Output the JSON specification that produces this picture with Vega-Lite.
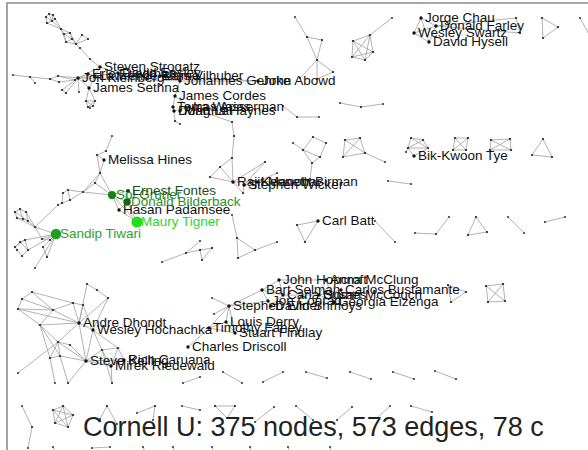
{
"$schema":"https://vega.github.io/schema/vega-lite/v6.json",
"width":640,"height":480,
"autosize":{"type":"none"},
"padding":{"left":7,"top":3,"right":0,"bottom":0},
"background":"white",
"config":{"view":{"stroke":"#8c8c8c","strokeWidth":1.6}},
"datasets":{
"edges":[
{"x":46,"y":17,"x2":49,"y2":14},{"x":49,"y":14,"x2":53,"y2":15},{"x":46,"y":17,"x2":47,"y2":23},{"x":47,"y":23,"x2":52,"y2":21},{"x":49,"y":14,"x2":52,"y2":21},{"x":53,"y":15,"x2":55,"y2":19},{"x":52,"y":21,"x2":55,"y2":19},{"x":46,"y":17,"x2":52,"y2":21},{"x":53,"y":15,"x2":52,"y2":21},{"x":47,"y":23,"x2":61,"y2":29},{"x":52,"y":21,"x2":61,"y2":29},{"x":55,"y":19,"x2":61,"y2":29},
{"x":61,"y":29,"x2":64,"y2":34},{"x":61,"y":29,"x2":70,"y2":33},{"x":64,"y":34,"x2":70,"y2":33},{"x":64,"y":34,"x2":66,"y2":42},{"x":70,"y":33,"x2":72,"y2":39},{"x":66,"y":42,"x2":72,"y2":39},{"x":66,"y":42,"x2":76,"y2":44},{"x":72,"y":39,"x2":76,"y2":44},{"x":64,"y":34,"x2":72,"y2":39},{"x":70,"y":33,"x2":76,"y2":44},{"x":61,"y":29,"x2":66,"y2":42},{"x":76,"y":44,"x2":82,"y2":35},{"x":76,"y":44,"x2":88,"y2":39},{"x":82,"y":35,"x2":88,"y2":39},{"x":76,"y":44,"x2":80,"y2":48},{"x":80,"y":48,"x2":90,"y2":59},{"x":90,"y":59,"x2":100,"y2":67},
{"x":13,"y":75,"x2":30,"y2":77},{"x":30,"y":77,"x2":35,"y2":83},{"x":30,"y":77,"x2":50,"y2":79},{"x":50,"y":79,"x2":58,"y2":76},{"x":50,"y":79,"x2":59,"y2":82},{"x":58,"y":76,"x2":75,"y2":80},{"x":59,"y":82,"x2":75,"y2":80},{"x":75,"y":80,"x2":78,"y2":78},{"x":58,"y":76,"x2":78,"y2":78},{"x":62,"y":90,"x2":78,"y2":78},{"x":66,"y":93,"x2":78,"y2":78},{"x":79,"y":92,"x2":78,"y2":78},{"x":62,"y":90,"x2":66,"y2":93},
{"x":89,"y":88,"x2":86,"y2":101},{"x":89,"y":88,"x2":95,"y2":101},{"x":86,"y":101,"x2":88,"y2":107},{"x":86,"y":101,"x2":95,"y2":101},{"x":88,"y":107,"x2":93,"y2":106},{"x":95,"y":101,"x2":93,"y2":106},{"x":86,"y":101,"x2":93,"y2":106},{"x":95,"y":101,"x2":88,"y2":107},{"x":88,"y":107,"x2":90,"y2":108},
{"x":100,"y":67,"x2":78,"y2":78},{"x":78,"y":78,"x2":89,"y2":88},{"x":100,"y":67,"x2":89,"y2":88},{"x":78,"y":78,"x2":88,"y2":74},{"x":88,"y":74,"x2":95,"y2":76},{"x":95,"y":76,"x2":118,"y2":73},{"x":118,"y":73,"x2":78,"y2":78},{"x":100,"y":67,"x2":118,"y2":73},{"x":118,"y":73,"x2":160,"y2":76},{"x":160,"y":76,"x2":180,"y2":81},{"x":180,"y":81,"x2":258,"y2":81},{"x":160,"y":76,"x2":258,"y2":81},{"x":78,"y":78,"x2":180,"y2":81},{"x":180,"y":81,"x2":175,"y2":96},{"x":175,"y":96,"x2":173,"y2":107},{"x":173,"y":107,"x2":174,"y2":111},{"x":175,"y":96,"x2":189,"y2":107},{"x":189,"y":107,"x2":174,"y2":111},{"x":174,"y":111,"x2":175,"y2":121},{"x":175,"y":121,"x2":180,"y2":124},{"x":189,"y":107,"x2":232,"y2":122},{"x":232,"y":122,"x2":234,"y2":136},{"x":234,"y":136,"x2":232,"y2":158},
{"x":232,"y":158,"x2":220,"y2":167},{"x":220,"y":167,"x2":210,"y2":177},{"x":210,"y":177,"x2":233,"y2":182},{"x":232,"y":158,"x2":233,"y2":182},{"x":220,"y":167,"x2":233,"y2":182},{"x":265,"y":162,"x2":233,"y2":182},{"x":265,"y":162,"x2":244,"y2":185},{"x":243,"y":193,"x2":233,"y2":182},{"x":243,"y":193,"x2":244,"y2":185},{"x":277,"y":173,"x2":257,"y2":182},{"x":233,"y":182,"x2":257,"y2":182},{"x":244,"y":185,"x2":257,"y2":182},{"x":312,"y":163,"x2":310,"y2":179},{"x":310,"y":179,"x2":257,"y2":182},{"x":303,"y":150,"x2":312,"y2":163},{"x":312,"y":163,"x2":320,"y2":157},{"x":303,"y":150,"x2":320,"y2":157},{"x":313,"y":137,"x2":303,"y2":150},{"x":313,"y":137,"x2":326,"y2":143},{"x":326,"y":143,"x2":320,"y2":157},{"x":293,"y":143,"x2":303,"y2":150},
{"x":232,"y":215,"x2":237,"y2":238},{"x":237,"y":238,"x2":255,"y2":250},{"x":237,"y":238,"x2":238,"y2":258},{"x":238,"y":258,"x2":255,"y2":250},{"x":255,"y":250,"x2":277,"y2":242},
{"x":345,"y":140,"x2":360,"y2":138},{"x":360,"y":138,"x2":365,"y2":153},{"x":365,"y":153,"x2":343,"y2":157},{"x":343,"y":157,"x2":345,"y2":140},{"x":345,"y":140,"x2":365,"y2":153},{"x":360,"y":138,"x2":343,"y2":157},{"x":365,"y":153,"x2":385,"y2":162},
{"x":297,"y":225,"x2":318,"y2":221},{"x":318,"y":221,"x2":305,"y2":242},{"x":297,"y":225,"x2":305,"y2":242},{"x":375,"y":221,"x2":395,"y2":242},
{"x":162,"y":262,"x2":186,"y2":253},{"x":186,"y":253,"x2":200,"y2":241},{"x":186,"y":253,"x2":200,"y2":250},{"x":200,"y":250,"x2":212,"y2":248},{"x":212,"y":248,"x2":202,"y2":260},{"x":202,"y":260,"x2":200,"y2":250},
{"x":112,"y":136,"x2":106,"y2":151},{"x":106,"y":151,"x2":97,"y2":155},{"x":97,"y":155,"x2":104,"y2":160},{"x":97,"y":155,"x2":100,"y2":173},{"x":104,"y":160,"x2":100,"y2":173},{"x":100,"y":173,"x2":95,"y2":183},{"x":100,"y":173,"x2":83,"y2":192},{"x":95,"y":183,"x2":83,"y2":192},{"x":100,"y":173,"x2":112,"y2":195},{"x":95,"y":183,"x2":112,"y2":195},{"x":83,"y":192,"x2":68,"y2":190},{"x":68,"y":190,"x2":63,"y2":193},{"x":68,"y":190,"x2":70,"y2":200},{"x":63,"y":193,"x2":62,"y2":203},{"x":62,"y":203,"x2":70,"y2":200},{"x":83,"y":192,"x2":70,"y2":200},{"x":62,"y":203,"x2":58,"y2":205},{"x":58,"y":205,"x2":35,"y2":227},{"x":83,"y":192,"x2":112,"y2":195},
{"x":112,"y":195,"x2":128,"y2":191},{"x":112,"y":195,"x2":127,"y2":202},{"x":112,"y":195,"x2":119,"y2":210},{"x":128,"y":191,"x2":127,"y2":202},{"x":127,"y":202,"x2":119,"y2":210},{"x":119,"y":210,"x2":137,"y2":222},{"x":127,"y":202,"x2":137,"y2":222},{"x":112,"y":195,"x2":137,"y2":222},
{"x":15,"y":212,"x2":20,"y2":209},{"x":20,"y":209,"x2":26,"y2":212},{"x":15,"y":212,"x2":17,"y2":218},{"x":17,"y":218,"x2":23,"y2":219},{"x":23,"y":219,"x2":28,"y2":221},{"x":26,"y":212,"x2":28,"y2":221},{"x":20,"y":209,"x2":23,"y2":219},{"x":26,"y":212,"x2":35,"y2":227},{"x":28,"y":221,"x2":35,"y2":227},{"x":17,"y":218,"x2":35,"y2":227},{"x":15,"y":212,"x2":28,"y2":221},
{"x":35,"y":227,"x2":56,"y2":234},{"x":56,"y":234,"x2":42,"y2":239},{"x":56,"y":234,"x2":50,"y2":240},{"x":56,"y":234,"x2":43,"y2":247},{"x":56,"y":234,"x2":47,"y2":257},{"x":56,"y":234,"x2":35,"y2":268},{"x":56,"y":234,"x2":25,"y2":240},{"x":56,"y":234,"x2":28,"y2":250},{"x":15,"y":247,"x2":20,"y2":242},{"x":20,"y":242,"x2":25,"y2":240},{"x":15,"y":247,"x2":17,"y2":250},{"x":17,"y":250,"x2":22,"y2":256},{"x":22,"y":256,"x2":28,"y2":250},{"x":28,"y":250,"x2":25,"y2":240},{"x":20,"y":242,"x2":28,"y2":250},{"x":15,"y":247,"x2":25,"y2":240},{"x":43,"y":247,"x2":47,"y2":257},{"x":42,"y":239,"x2":50,"y2":240},{"x":35,"y":227,"x2":42,"y2":239},
{"x":295,"y":17,"x2":307,"y2":37},{"x":307,"y":37,"x2":322,"y2":40},{"x":307,"y":37,"x2":317,"y2":60},{"x":322,"y":40,"x2":317,"y2":60},{"x":317,"y":60,"x2":333,"y2":72},{"x":317,"y":60,"x2":300,"y2":78},{"x":317,"y":60,"x2":317,"y2":79},{"x":333,"y":72,"x2":317,"y2":79},
{"x":353,"y":41,"x2":370,"y2":35},{"x":353,"y":41,"x2":373,"y2":52},{"x":353,"y":41,"x2":365,"y2":60},{"x":353,"y":41,"x2":352,"y2":57},{"x":370,"y":35,"x2":373,"y2":52},{"x":370,"y":35,"x2":365,"y2":60},{"x":370,"y":35,"x2":352,"y2":57},{"x":373,"y":52,"x2":365,"y2":60},{"x":373,"y":52,"x2":352,"y2":57},{"x":365,"y":60,"x2":352,"y2":57},{"x":370,"y":35,"x2":392,"y2":18},
{"x":421,"y":18,"x2":414,"y2":33},{"x":414,"y":33,"x2":429,"y2":42},{"x":429,"y":42,"x2":436,"y2":26},{"x":436,"y":26,"x2":421,"y2":18},{"x":421,"y":18,"x2":429,"y2":42},{"x":414,"y":33,"x2":436,"y2":26},{"x":436,"y":26,"x2":516,"y2":18},{"x":436,"y":26,"x2":520,"y2":33},{"x":516,"y":18,"x2":520,"y2":33},
{"x":542,"y":18,"x2":558,"y2":27},{"x":558,"y":27,"x2":543,"y2":38},{"x":543,"y":38,"x2":542,"y2":18},{"x":580,"y":18,"x2":592,"y2":40},
{"x":340,"y":103,"x2":361,"y2":107},{"x":361,"y":107,"x2":383,"y2":104},{"x":283,"y":106,"x2":297,"y2":117},{"x":297,"y":117,"x2":319,"y2":117},
{"x":411,"y":138,"x2":423,"y2":140},{"x":423,"y":140,"x2":428,"y2":148},{"x":428,"y":148,"x2":408,"y2":148},{"x":408,"y":148,"x2":411,"y2":138},{"x":411,"y":138,"x2":428,"y2":148},{"x":423,"y":140,"x2":408,"y2":148},{"x":408,"y":148,"x2":414,"y2":156},{"x":428,"y":148,"x2":414,"y2":156},{"x":406,"y":152,"x2":408,"y2":148},
{"x":455,"y":138,"x2":468,"y2":138},{"x":468,"y":138,"x2":466,"y2":150},{"x":466,"y":150,"x2":453,"y2":150},{"x":453,"y":150,"x2":455,"y2":138},{"x":455,"y":138,"x2":466,"y2":150},{"x":468,"y":138,"x2":453,"y2":150},
{"x":491,"y":140,"x2":510,"y2":139},{"x":510,"y":139,"x2":511,"y2":150},{"x":511,"y":150,"x2":490,"y2":150},{"x":490,"y":150,"x2":491,"y2":140},{"x":491,"y":140,"x2":511,"y2":150},{"x":510,"y":139,"x2":490,"y2":150},
{"x":543,"y":139,"x2":532,"y2":155},{"x":532,"y":155,"x2":552,"y2":157},{"x":552,"y":157,"x2":543,"y2":139},
{"x":388,"y":181,"x2":411,"y2":184},{"x":415,"y":233,"x2":436,"y2":234},{"x":436,"y":234,"x2":449,"y2":217},{"x":476,"y":217,"x2":468,"y2":235},{"x":468,"y":235,"x2":487,"y2":232},{"x":487,"y":232,"x2":476,"y2":217},{"x":508,"y":217,"x2":524,"y2":233},{"x":545,"y":222,"x2":565,"y2":217},
{"x":262,"y":290,"x2":283,"y2":295},{"x":262,"y":290,"x2":268,"y2":301},{"x":283,"y":295,"x2":279,"y2":280},{"x":279,"y":280,"x2":262,"y2":290},{"x":283,"y":295,"x2":271,"y2":306},{"x":268,"y":301,"x2":271,"y2":306},{"x":229,"y":306,"x2":268,"y2":301},{"x":229,"y":306,"x2":226,"y2":322},{"x":229,"y":306,"x2":209,"y2":328},{"x":229,"y":306,"x2":235,"y2":333},{"x":226,"y":322,"x2":209,"y2":328},{"x":209,"y":328,"x2":235,"y2":333},{"x":226,"y":322,"x2":235,"y2":333},{"x":209,"y":328,"x2":188,"y2":347},{"x":341,"y":290,"x2":319,"y2":295},{"x":319,"y":295,"x2":334,"y2":302},{"x":326,"y":280,"x2":319,"y2":295},{"x":326,"y":280,"x2":334,"y2":302},{"x":341,"y":290,"x2":334,"y2":302},{"x":279,"y":280,"x2":326,"y2":280},{"x":283,"y":295,"x2":319,"y2":295},{"x":229,"y":306,"x2":262,"y2":290},{"x":229,"y":306,"x2":212,"y2":298},{"x":229,"y":306,"x2":214,"y2":314},
{"x":448,"y":285,"x2":466,"y2":292},{"x":466,"y":292,"x2":451,"y2":302},{"x":451,"y":302,"x2":448,"y2":285},
{"x":486,"y":286,"x2":503,"y2":284},{"x":503,"y":284,"x2":505,"y2":301},{"x":505,"y":301,"x2":488,"y2":302},{"x":488,"y":302,"x2":486,"y2":286},{"x":486,"y":286,"x2":505,"y2":301},{"x":503,"y":284,"x2":488,"y2":302},
{"x":32,"y":292,"x2":22,"y2":299},{"x":22,"y":299,"x2":18,"y2":309},{"x":32,"y":292,"x2":53,"y2":310},{"x":18,"y":309,"x2":53,"y2":310},{"x":22,"y":299,"x2":53,"y2":310},{"x":18,"y":309,"x2":40,"y2":325},{"x":40,"y":325,"x2":53,"y2":310},{"x":53,"y":310,"x2":73,"y2":303},{"x":73,"y":303,"x2":83,"y2":305},{"x":53,"y":310,"x2":79,"y2":323},{"x":73,"y":303,"x2":79,"y2":323},{"x":83,"y":305,"x2":79,"y2":323},{"x":40,"y":325,"x2":79,"y2":323},{"x":18,"y":309,"x2":79,"y2":323},{"x":87,"y":284,"x2":97,"y2":290},{"x":97,"y":290,"x2":108,"y2":298},{"x":87,"y":284,"x2":79,"y2":323},{"x":108,"y":298,"x2":79,"y2":323},{"x":108,"y":298,"x2":93,"y2":330},{"x":79,"y":323,"x2":93,"y2":330},{"x":79,"y":323,"x2":58,"y2":342},{"x":40,"y":325,"x2":58,"y2":342},{"x":58,"y":342,"x2":50,"y2":358},{"x":58,"y":342,"x2":60,"y2":356},{"x":50,"y":358,"x2":60,"y2":356},{"x":58,"y":342,"x2":86,"y2":361},{"x":60,"y":356,"x2":86,"y2":361},{"x":79,"y":323,"x2":86,"y2":361},{"x":93,"y":330,"x2":86,"y2":361},{"x":93,"y":330,"x2":102,"y2":350},{"x":102,"y":350,"x2":118,"y2":348},{"x":102,"y":350,"x2":86,"y2":361},{"x":118,"y":348,"x2":111,"y2":366},{"x":86,"y":361,"x2":111,"y2":366},{"x":102,"y":350,"x2":111,"y2":366},{"x":18,"y":373,"x2":58,"y2":342},{"x":70,"y":345,"x2":86,"y2":361},{"x":70,"y":345,"x2":58,"y2":342},{"x":93,"y":330,"x2":118,"y2":348},{"x":124,"y":360,"x2":111,"y2":366},{"x":124,"y":360,"x2":86,"y2":361},{"x":124,"y":360,"x2":118,"y2":348},{"x":40,"y":325,"x2":50,"y2":358},{"x":50,"y":358,"x2":55,"y2":383},{"x":60,"y":356,"x2":68,"y2":383},{"x":86,"y":361,"x2":68,"y2":383},{"x":111,"y":366,"x2":112,"y2":383},{"x":102,"y":350,"x2":112,"y2":383},{"x":83,"y":305,"x2":93,"y2":330},{"x":40,"y":325,"x2":60,"y2":356},{"x":32,"y":292,"x2":73,"y2":303},
{"x":183,"y":383,"x2":200,"y2":377},{"x":223,"y":372,"x2":242,"y2":383},{"x":263,"y":382,"x2":283,"y2":372},{"x":306,"y":372,"x2":327,"y2":378},{"x":350,"y":372,"x2":371,"y2":379},{"x":393,"y":372,"x2":414,"y2":379},{"x":435,"y":371,"x2":456,"y2":379},
{"x":215,"y":406,"x2":235,"y2":406},{"x":235,"y":406,"x2":227,"y2":418},{"x":227,"y":418,"x2":215,"y2":406},{"x":255,"y":422,"x2":274,"y2":407},{"x":296,"y":406,"x2":313,"y2":420},{"x":337,"y":420,"x2":352,"y2":407},{"x":377,"y":418,"x2":390,"y2":406},{"x":411,"y":406,"x2":432,"y2":412},
{"x":22,"y":406,"x2":32,"y2":427},{"x":32,"y":427,"x2":28,"y2":448},
{"x":53,"y":410,"x2":63,"y2":406},{"x":53,"y":410,"x2":73,"y2":415},{"x":53,"y":410,"x2":68,"y2":427},{"x":53,"y":410,"x2":55,"y2":423},{"x":63,"y":406,"x2":73,"y2":415},{"x":63,"y":406,"x2":68,"y2":427},{"x":63,"y":406,"x2":55,"y2":423},{"x":73,"y":415,"x2":68,"y2":427},{"x":73,"y":415,"x2":55,"y2":423},{"x":68,"y":427,"x2":55,"y2":423},
{"x":107,"y":406,"x2":117,"y2":424},{"x":107,"y":406,"x2":100,"y2":419},{"x":137,"y":413,"x2":155,"y2":406},{"x":155,"y":406,"x2":153,"y2":420},{"x":182,"y":406,"x2":200,"y2":410},
{"x":53,"y":447,"x2":58,"y2":458},{"x":92,"y":448,"x2":110,"y2":447},{"x":143,"y":447,"x2":148,"y2":458},{"x":173,"y":447,"x2":176,"y2":458},{"x":212,"y":447,"x2":216,"y2":458},{"x":250,"y":447,"x2":254,"y2":458},{"x":288,"y":447,"x2":291,"y2":458},{"x":330,"y":447,"x2":334,"y2":458}
],
"people":[
{"name":"Steven Strogatz","x":100,"y":67,"kind":"l"},
{"name":"Eric Friedman","x":88,"y":74,"kind":"l"},
{"name":"David Easley","x":118,"y":73,"kind":"l"},
{"name":"Lawrence Blume","x":95,"y":76,"kind":"l"},
{"name":"Lars Vilhuber","x":160,"y":76,"kind":"l"},
{"name":"Jon Kleinberg","x":78,"y":78,"kind":"l"},
{"name":"Johannes Gehrke","x":180,"y":81,"kind":"l"},
{"name":"John Abowd","x":258,"y":81,"kind":"l"},
{"name":"James Sethna","x":89,"y":88,"kind":"l"},
{"name":"James Cordes","x":175,"y":96,"kind":"l"},
{"name":"Tomas Arias","x":173,"y":107,"kind":"l"},
{"name":"Ira Wasserman","x":189,"y":107,"kind":"l"},
{"name":"Dong Lai","x":174,"y":111,"kind":"l"},
{"name":"Martha Haynes","x":180,"y":111,"kind":"l"},
{"name":"Jorge Chau","x":421,"y":18,"kind":"l"},
{"name":"Donald Farley","x":436,"y":26,"kind":"l"},
{"name":"Wesley Swartz","x":414,"y":33,"kind":"l"},
{"name":"David Hysell","x":429,"y":42,"kind":"l"},
{"name":"Melissa Hines","x":104,"y":160,"kind":"l"},
{"name":"Bik-Kwoon Tye","x":414,"y":156,"kind":"l"},
{"name":"Rajit Manohar","x":233,"y":182,"kind":"l"},
{"name":"Kenneth Birman","x":257,"y":182,"kind":"l"},
{"name":"Stephen Wicker","x":244,"y":185,"kind":"l"},
{"name":"Carl Batt","x":318,"y":221,"kind":"l"},
{"name":"Hasan Padamsee","x":119,"y":210,"kind":"l"},
{"name":"Sol Gruner","x":112,"y":195,"kind":"sol"},
{"name":"Ernest Fontes","x":128,"y":191,"kind":"ernest"},
{"name":"Donald Bilderback","x":127,"y":202,"kind":"donald"},
{"name":"Maury Tigner","x":137,"y":222,"kind":"maury"},
{"name":"Sandip Tiwari","x":56,"y":234,"kind":"sandip"},
{"name":"John Hopcroft","x":279,"y":280,"kind":"l"},
{"name":"Anna McClung","x":326,"y":280,"kind":"l"},
{"name":"Bart Selman","x":262,"y":290,"kind":"l"},
{"name":"Carlos Bustamante","x":341,"y":290,"kind":"l"},
{"name":"Carla Gomes","x":283,"y":295,"kind":"l"},
{"name":"Susan McCouch","x":319,"y":295,"kind":"l"},
{"name":"Jon Conrad","x":268,"y":301,"kind":"l"},
{"name":"Georgia Eizenga","x":334,"y":302,"kind":"l"},
{"name":"Stephen Ellner","x":229,"y":306,"kind":"l"},
{"name":"David Shmoys","x":271,"y":306,"kind":"l"},
{"name":"Louis Derry","x":226,"y":322,"kind":"l"},
{"name":"Timothy Fahey","x":209,"y":328,"kind":"l"},
{"name":"Stuart Findlay","x":235,"y":333,"kind":"l"},
{"name":"Charles Driscoll","x":188,"y":347,"kind":"l"},
{"name":"Andre Dhondt","x":79,"y":323,"kind":"l"},
{"name":"Wesley Hochachka","x":93,"y":330,"kind":"l"},
{"name":"Steve Kelling","x":86,"y":361,"kind":"l"},
{"name":"Rich Caruana","x":124,"y":360,"kind":"l"},
{"name":"Mirek Riedewald","x":111,"y":366,"kind":"l"}
],
"caption":[{"t":"Cornell U: 375 nodes, 573 edges, 78 c","x":83,"y":436}]
},
"layer":[
{"data":{"name":"edges"},"mark":{"type":"rule","stroke":"#a9a9a9","strokeWidth":0.9},
 "encoding":{"x":{"field":"x","type":"quantitative","scale":{"domain":[7,647],"nice":false,"zero":false},"axis":null},
 "y":{"field":"y","type":"quantitative","scale":{"domain":[3,483],"reverse":true,"nice":false,"zero":false},"axis":null},
 "x2":{"field":"x2"},"y2":{"field":"y2"}}},
{"data":{"name":"edges"},"mark":{"type":"circle","color":"#3c3c4c","opacity":1,"size":5},
 "encoding":{"x":{"field":"x","type":"quantitative"},"y":{"field":"y","type":"quantitative"}}},
{"data":{"name":"edges"},"mark":{"type":"circle","color":"#3c3c4c","opacity":1,"size":5},
 "encoding":{"x":{"field":"x2","type":"quantitative"},"y":{"field":"y2","type":"quantitative"}}},
{"data":{"name":"people"},"transform":[{"filter":{"field":"kind","equal":"l"}}],"mark":{"type":"circle","opacity":1,"size":11,"color":"#111111"},
 "encoding":{"x":{"field":"x","type":"quantitative"},"y":{"field":"y","type":"quantitative"}}},
{"data":{"name":"people"},"transform":[{"filter":{"field":"kind","equal":"sandip"}}],"mark":{"type":"circle","opacity":1,"size":107,"color":"#1f9f1f"},
 "encoding":{"x":{"field":"x","type":"quantitative"},"y":{"field":"y","type":"quantitative"}}},
{"data":{"name":"people"},"transform":[{"filter":{"field":"kind","equal":"maury"}}],"mark":{"type":"circle","opacity":1,"size":126,"color":"#22dd22"},
 "encoding":{"x":{"field":"x","type":"quantitative"},"y":{"field":"y","type":"quantitative"}}},
{"data":{"name":"people"},"transform":[{"filter":{"field":"kind","equal":"sol"}}],"mark":{"type":"circle","opacity":1,"size":68,"color":"#138313"},
 "encoding":{"x":{"field":"x","type":"quantitative"},"y":{"field":"y","type":"quantitative"}}},
{"data":{"name":"people"},"transform":[{"filter":{"field":"kind","equal":"donald"}}],"mark":{"type":"circle","opacity":1,"size":55,"color":"#0f6a0f"},
 "encoding":{"x":{"field":"x","type":"quantitative"},"y":{"field":"y","type":"quantitative"}}},
{"data":{"name":"people"},"transform":[{"filter":{"field":"kind","equal":"ernest"}}],"mark":{"type":"circle","opacity":1,"size":17,"color":"#0f3f0f"},
 "encoding":{"x":{"field":"x","type":"quantitative"},"y":{"field":"y","type":"quantitative"}}},
{"data":{"name":"people"},"mark":{"type":"text","align":"left","baseline":"middle","dx":4,"font":"Liberation Sans","fontSize":13.5},
 "encoding":{"x":{"field":"x","type":"quantitative"},"y":{"field":"y","type":"quantitative"},"text":{"field":"name"},
 "color":{"field":"kind","type":"nominal","legend":null,"scale":{"domain":["l","sandip","maury","sol","donald","ernest"],"range":["#111111","#2aa52a","#2ed82e","#1f861f","#2a8f2a","#1c4c1c"]}}}},
{"data":{"name":"caption"},"mark":{"type":"text","align":"left","baseline":"alphabetic","font":"Liberation Sans","fontSize":27,"color":"#222222"},
 "encoding":{"x":{"field":"x","type":"quantitative"},"y":{"field":"y","type":"quantitative"},"text":{"field":"t"}}}
]
}
